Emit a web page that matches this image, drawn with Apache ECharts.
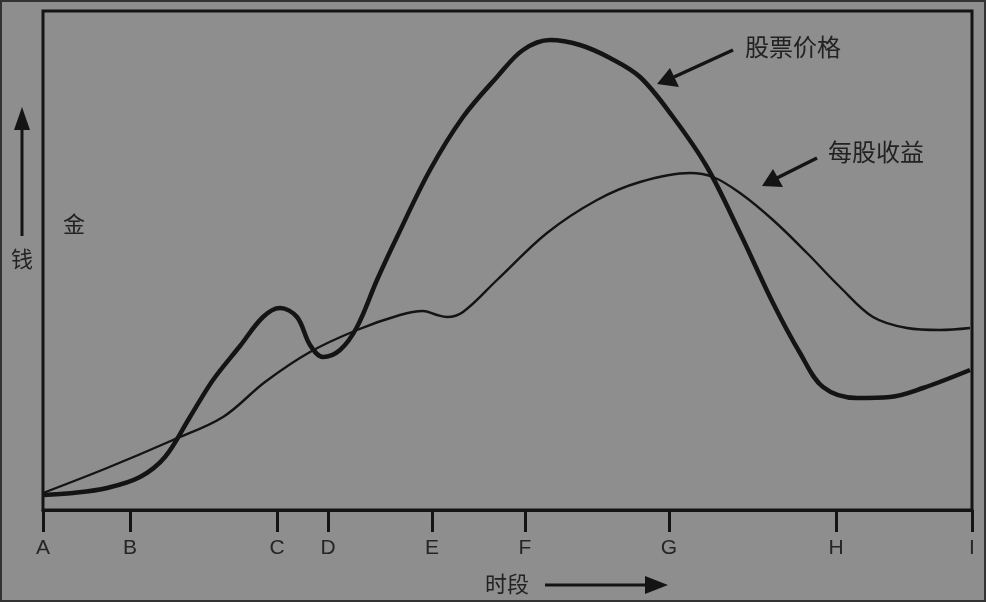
<!DOCTYPE html>
<html>
<head>
<meta charset="utf-8">
<script src="https://cdn.jsdelivr.net/npm/echarts@6/dist/echarts.min.js"></script>
<style>
html,body{margin:0;padding:0;background:#8e8e8e;}
#c{width:986px;height:602px;box-sizing:border-box;border:2px solid #333;}
</style>
</head>
<body>
<div id="c"></div>
<script>
// Time-period tick positions (x units) and their labels
const tickPositions = [0, 87, 234, 285, 389, 482, 626, 793, 929];
const tickLabels = ['A', 'B', 'C', 'D', 'E', 'F', 'G', 'H', 'I'];

// 股票价格 (stock price) — [time, money]
const stockPrice = [
  [0, 15], [30, 17], [64, 22], [97, 33], [122, 53], [147, 93], [170, 130], [197, 164],
  [220, 193], [237, 202], [254, 193], [267, 165], [280, 153], [297, 160], [314, 183],
  [334, 230], [354, 273], [387, 340], [420, 393], [454, 433], [480, 460], [507, 470],
  [537, 465], [567, 452], [597, 433], [630, 393], [664, 343], [697, 277], [730, 207],
  [757, 157], [780, 123], [814, 112], [847, 113], [880, 122], [927, 140]
];

// 每股收益 (earnings per share) — [time, money]
const eps = [
  [0, 17], [64, 42], [130, 70], [180, 93], [222, 128], [267, 158], [314, 180],
  [357, 195], [380, 199], [394, 195], [404, 193], [420, 198], [454, 230], [504, 277],
  [554, 310], [597, 328], [647, 337], [670, 333], [697, 317], [730, 290], [764, 257],
  [797, 223], [830, 193], [864, 182], [897, 180], [927, 182]
];

const chart = echarts.init(document.getElementById('c'));
const ink = '#141414';
chart.setOption({
  backgroundColor: '#8e8e8e',
  animation: false,
  grid: {left: 41, right: 12, top: 9, bottom: 90, show: true, borderColor: ink, borderWidth: 3, backgroundColor: 'transparent'},
  xAxis: {
    type: 'value', min: 0, max: 929,
    splitLine: {show: false},
    axisLine: {show: true, lineStyle: {color: ink, width: 3}},
    axisTick: {show: true, length: 22, inside: false, customValues: tickPositions, lineStyle: {color: ink, width: 3}},
    axisLabel: {
      show: true, customValues: tickPositions, margin: 28, color: '#252525',
      fontSize: 21, fontFamily: 'Liberation Sans, Arial, sans-serif',
      formatter: function (v) { const i = tickPositions.indexOf(v); return i >= 0 ? tickLabels[i] : ''; }
    }
  },
  yAxis: {
    type: 'value', min: 0, max: 499,
    splitLine: {show: false}, axisLine: {show: false}, axisTick: {show: false}, axisLabel: {show: false}
  },
  series: [
    {name: '股票价格', type: 'line', data: stockPrice, smooth: 0.35, showSymbol: false,
     lineStyle: {color: ink, width: 4.5}},
    {name: '每股收益', type: 'line', data: eps, smooth: 0.35, showSymbol: false,
     lineStyle: {color: ink, width: 2.4}}
  ],
  graphic: [
    // y axis label and arrow
    {type: 'line', shape: {x1: 20, y1: 234, x2: 20, y2: 122}, style: {stroke: ink, lineWidth: 3}},
    {type: 'polygon', shape: {points: [[20, 105], [12, 128], [28, 128]]}, style: {fill: ink}},
    {type: 'text', style: {text: '钱', x: 20, y: 257, align: 'center', verticalAlign: 'middle', fill: '#222', font: '22px "Noto Sans CJK SC", sans-serif'}},
    {type: 'text', style: {text: '金', x: 72, y: 222, align: 'center', verticalAlign: 'middle', fill: '#222', font: '22px "Noto Sans CJK SC", sans-serif'}},
    // x axis title and arrow
    {type: 'text', style: {text: '时段', x: 505, y: 582, align: 'center', verticalAlign: 'middle', fill: '#222', font: '22px "Noto Sans CJK SC", sans-serif'}},
    {type: 'line', shape: {x1: 543, y1: 583, x2: 645, y2: 583}, style: {stroke: ink, lineWidth: 3}},
    {type: 'polygon', shape: {points: [[666, 583], [643, 574], [643, 592]]}, style: {fill: ink}},
    // series annotations
    {type: 'text', style: {text: '股票价格', x: 743, y: 45, align: 'left', verticalAlign: 'middle', fill: '#222', font: '24px "Noto Sans CJK SC", sans-serif'}},
    {type: 'line', shape: {x1: 731, y1: 48, x2: 672, y2: 75}, style: {stroke: ink, lineWidth: 3.5}},
    {type: 'polygon', shape: {points: [[655, 82], [668, 66], [677, 85]]}, style: {fill: ink}},
    {type: 'text', style: {text: '每股收益', x: 826, y: 150, align: 'left', verticalAlign: 'middle', fill: '#222', font: '24px "Noto Sans CJK SC", sans-serif'}},
    {type: 'line', shape: {x1: 815, y1: 156, x2: 775, y2: 176}, style: {stroke: ink, lineWidth: 3.5}},
    {type: 'polygon', shape: {points: [[760, 184], [771, 167], [781, 185]]}, style: {fill: ink}}
  ]
});
</script>
</body>
</html>
